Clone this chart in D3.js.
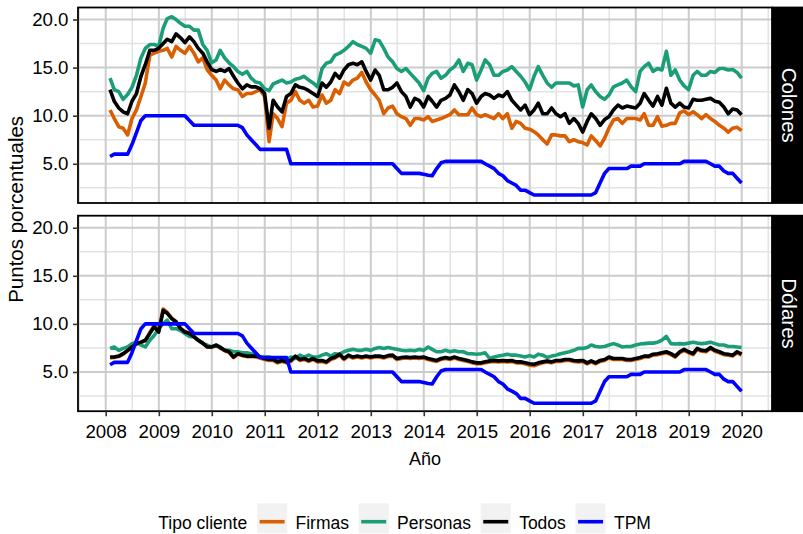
<!DOCTYPE html>
<html>
<head>
<meta charset="utf-8">
<script src="https://cdn.jsdelivr.net/npm/d3@7"></script>
<style>
  body { margin: 0; background: #fff; }
  svg text { font-family: "Liberation Sans", Arial, sans-serif; }
</style>
</head>
<body>
<svg id="chart"></svg>
<script>
// monthly rates, Jan 2008 - Dec 2019 (one row per year)
var colFirmas = [
  10.6, 9.7, 8.85, 8.7, 8.0, 9.7, 10.6, 12.0, 13.4, 16.3, 16.5, 16.7,
  16.8, 17.0, 16.1, 17.2, 16.8, 16.5, 17.2, 16.5, 15.6, 16.0, 14.8, 14.2,
  13.7, 12.8, 13.7, 13.2, 12.8, 12.7, 12.0, 12.3, 12.3, 12.5, 12.7, 12.0,
  7.3, 10.2, 9.7, 8.85, 11.3, 11.6, 12.5, 11.6, 11.3, 11.6, 10.9, 11.0,
  12.15, 11.3, 11.6, 12.7, 12.3, 13.5, 13.2, 13.7, 13.9, 14.5, 13.5, 12.7,
  12.15, 11.6, 10.2, 10.8, 11.0, 10.2, 9.9, 9.7, 9.0, 9.7, 9.7, 9.55,
  9.9, 9.4, 9.55, 9.7, 9.9, 10.1, 10.6, 10.1, 10.1, 10.1, 10.8, 10.1,
  9.9, 10.1, 9.9, 9.7, 10.2, 9.7, 10.2, 8.7, 9.4, 9.2, 8.7, 8.6,
  8.35, 8.0, 7.5, 7.05, 8.0, 8.0, 7.9, 7.9, 7.3, 7.5, 7.3, 7.2,
  6.95, 7.9, 7.4, 6.85, 7.65, 8.7, 9.55, 9.7, 9.2, 9.7, 9.7, 9.7,
  9.55, 10.2, 9.0, 9.0, 9.9, 8.9, 9.0, 9.2, 9.2, 10.3, 10.5, 10.1,
  10.4, 10.1, 9.7, 10.1, 9.7, 9.4, 9.0, 8.7, 8.3, 8.7, 8.8, 8.45
];
var colPersonas = [
  13.9, 12.7, 12.5, 11.7, 12.2, 12.95, 14.2, 16.0, 17.0, 17.4, 17.4, 17.2,
  19.1, 20.1, 20.3, 20.0, 19.6, 19.3, 19.3, 18.9, 18.9, 17.4, 16.8, 15.5,
  15.8, 16.8, 16.0, 15.5, 15.1, 14.6, 14.3, 14.6, 13.9, 13.5, 13.4, 12.8,
  12.6, 13.3, 13.5, 13.7, 13.4, 13.5, 13.8, 13.9, 14.1, 13.7, 13.4, 13.0,
  14.9, 15.45, 15.6, 16.3, 16.5, 16.8, 17.2, 17.7, 17.4, 17.2, 17.0, 16.5,
  17.9, 17.8, 17.0, 16.1, 15.6, 14.9, 14.6, 14.9, 14.4, 13.9, 13.4, 12.6,
  13.9, 14.4, 14.6, 13.9, 14.2, 14.75, 15.1, 15.8, 14.6, 15.45, 15.3, 13.7,
  14.75, 15.8, 15.3, 14.2, 14.2, 14.6, 14.75, 15.1, 14.6, 14.1, 13.5, 12.7,
  14.1, 15.1, 14.2, 13.4, 12.95, 13.4, 13.4, 13.4, 13.4, 13.1, 13.2, 10.9,
  12.7, 13.2, 12.5, 12.0, 11.7, 12.15, 13.0, 13.2, 13.4, 13.7, 13.0, 12.5,
  14.6, 15.1, 15.45, 14.6, 14.9, 14.75, 16.7, 14.2, 14.75, 13.7, 13.1, 12.7,
  14.2, 14.6, 14.2, 14.2, 14.6, 14.5, 14.9, 14.9, 14.75, 14.8, 14.5, 13.9
];
var colTodos = [
  12.7, 11.5, 10.8, 10.4, 10.2, 11.5, 12.3, 14.1, 15.3, 16.8, 16.8, 17.0,
  17.5, 17.95, 17.7, 18.5, 18.1, 17.6, 18.2, 17.7, 17.0, 16.5, 15.6, 14.8,
  14.6, 14.8, 14.6, 14.9, 14.1, 13.4, 12.8, 13.2, 13.0, 13.0, 12.8, 12.3,
  8.7, 11.6, 10.9, 10.4, 12.0, 12.3, 13.2, 12.95, 12.85, 12.6, 12.3, 12.0,
  13.4, 12.95, 13.5, 14.4, 13.9, 14.75, 15.3, 15.45, 15.3, 15.6, 14.6, 13.7,
  14.75, 14.2, 12.7, 12.7, 12.95, 13.4, 12.5, 12.0, 10.9, 11.8, 11.6, 10.9,
  12.0, 11.5, 10.9, 11.6, 11.8, 12.15, 13.2, 12.5, 11.6, 12.7, 12.3, 11.3,
  12.0, 12.3, 12.15, 11.8, 12.15, 12.0, 12.5, 11.6, 11.1, 10.6, 11.1, 10.1,
  10.6, 11.3, 10.2, 10.2, 10.8, 10.2, 9.9, 10.2, 9.2, 9.7, 9.2, 8.3,
  9.4, 10.2, 9.7, 9.0, 9.6, 9.9, 10.6, 11.1, 10.8, 11.0, 10.9, 10.8,
  11.3, 12.3, 11.6, 11.0, 12.0, 11.1, 12.85, 11.3, 10.9, 11.3, 10.9, 10.8,
  11.7, 11.6, 11.6, 11.7, 11.8, 11.5, 11.4, 10.9, 10.2, 10.7, 10.6, 10.1
];
var dolFirmas = [
  6.45, 6.5, 6.6, 6.85, 7.2, 7.55, 7.9, 8.05, 8.25, 9.1, 9.85, 9.3,
  11.55, 11.2, 10.6, 10.25, 9.55, 9.2, 9.05, 8.7, 8.3, 8.0, 7.6, 7.55,
  7.75, 7.5, 7.2, 7.05, 6.5, 6.85, 6.7, 6.6, 6.6, 6.55, 6.45, 6.3,
  6.2, 6.2, 5.95, 6.1, 5.95, 6.1, 6.55, 6.2, 6.3, 6.1, 6.3, 6.05,
  6.1, 5.95, 6.3, 6.45, 6.75, 6.3, 6.65, 6.45, 6.55, 6.45, 6.55, 6.45,
  6.55, 6.55, 6.45, 6.6, 6.65, 6.3, 6.4, 6.45, 6.4, 6.45, 6.4, 6.45,
  6.3, 6.2, 6.1, 6.3, 6.4, 6.3, 6.45, 6.3, 6.2, 6.1, 5.95, 5.85,
  5.85, 5.95, 6.05, 6.1, 6.05, 6.1, 6.05, 6.1, 5.95, 5.95, 5.85, 5.7,
  5.65, 5.8, 5.95, 6.05, 5.95, 6.1, 6.1, 6.2, 6.2, 6.1, 6.05, 6.1,
  5.85, 6.05, 5.85, 6.1, 6.2, 6.45, 6.3, 6.3, 6.3, 6.2, 6.2, 6.3,
  6.4, 6.55, 6.55, 6.75, 6.8, 6.9, 7.0, 6.8, 6.55, 7.0, 7.25, 7.0,
  6.8, 7.35, 7.15, 7.1, 7.45, 7.15, 7.0, 6.8, 6.75, 6.65, 7.0, 6.75
];
var dolPersonas = [
  7.45, 7.6, 7.25, 7.45, 7.6, 7.95, 8.1, 7.8, 7.6, 8.3, 8.8, 9.5,
  10.0, 10.4, 9.5, 9.5, 9.3, 9.0, 8.7, 8.65, 8.3, 7.95, 7.8, 7.6,
  7.8, 7.6, 7.25, 7.25, 7.1, 7.1, 7.0, 7.0, 6.9, 6.85, 6.55, 6.55,
  6.55, 6.4, 6.2, 6.2, 6.3, 6.55, 6.4, 6.75, 6.55, 6.75, 6.55, 6.55,
  6.75, 6.9, 6.65, 6.9, 6.85, 7.1, 7.25, 7.35, 7.25, 7.25, 7.35, 7.25,
  7.45, 7.55, 7.45, 7.55, 7.45, 7.35, 7.25, 7.2, 7.25, 7.2, 7.35, 7.25,
  7.6, 7.35, 7.1, 7.1, 7.25, 7.1, 7.2, 7.1, 7.1, 6.9, 6.9, 6.85,
  6.9, 7.0, 6.4, 6.55, 6.65, 6.75, 6.85, 6.75, 6.75, 6.65, 6.55, 6.7,
  6.55, 6.85, 6.75, 6.5, 6.65, 6.75, 6.9, 7.0, 7.1, 7.25, 7.45, 7.45,
  7.55, 7.8, 7.65, 7.6, 7.65, 7.8, 7.95, 7.8, 7.6, 7.65, 7.65, 7.8,
  7.9, 7.95, 8.0, 8.0, 8.1, 8.3, 8.7, 7.95, 7.9, 7.95, 7.9, 8.0,
  8.1, 8.0, 7.95, 8.0, 8.1, 7.95, 7.8, 7.8, 7.65, 7.65, 7.6, 7.55
];
var dolTodos = [
  6.55, 6.55, 6.65, 6.9, 7.25, 7.6, 7.95, 8.1, 8.3, 9.0, 9.7, 9.15,
  11.4, 11.1, 10.55, 10.2, 9.5, 9.15, 9.0, 8.65, 8.3, 8.0, 7.6, 7.6,
  7.8, 7.55, 7.25, 7.1, 6.55, 6.9, 6.75, 6.65, 6.65, 6.65, 6.55, 6.4,
  6.3, 6.3, 6.05, 6.2, 6.05, 6.2, 6.65, 6.3, 6.4, 6.2, 6.4, 6.15,
  6.2, 6.05, 6.4, 6.55, 6.85, 6.4, 6.75, 6.55, 6.65, 6.55, 6.65, 6.55,
  6.65, 6.65, 6.55, 6.7, 6.75, 6.4, 6.5, 6.55, 6.5, 6.55, 6.5, 6.55,
  6.4, 6.3, 6.2, 6.4, 6.5, 6.4, 6.55, 6.4, 6.3, 6.2, 6.05, 5.95,
  5.95, 6.05, 6.15, 6.2, 6.15, 6.2, 6.15, 6.2, 6.05, 6.05, 5.95, 5.85,
  5.8, 5.95, 6.05, 6.15, 6.05, 6.2, 6.2, 6.3, 6.3, 6.2, 6.15, 6.2,
  5.95, 6.15, 5.95, 6.2, 6.3, 6.55, 6.4, 6.4, 6.4, 6.3, 6.3, 6.4,
  6.5, 6.65, 6.65, 6.85, 6.9, 7.0, 7.1, 6.9, 6.65, 7.1, 7.35, 7.1,
  6.9, 7.45, 7.25, 7.2, 7.55, 7.25, 7.1, 6.9, 6.85, 6.75, 7.1, 6.85
];
var tpm = [
  5.75, 6.0, 6.0, 6.0, 6.0, 7.0, 8.25, 9.5, 10.0, 10.0, 10.0, 10.0,
  10.0, 10.0, 10.0, 10.0, 10.0, 10.0, 9.5, 9.0, 9.0, 9.0, 9.0, 9.0,
  9.0, 9.0, 9.0, 9.0, 9.0, 9.0, 8.75, 8.0, 7.5, 7.0, 6.5, 6.5,
  6.5, 6.5, 6.5, 6.5, 6.5, 5.0, 5.0, 5.0, 5.0, 5.0, 5.0, 5.0,
  5.0, 5.0, 5.0, 5.0, 5.0, 5.0, 5.0, 5.0, 5.0, 5.0, 5.0, 5.0,
  5.0, 5.0, 5.0, 5.0, 5.0, 4.5, 4.0, 4.0, 4.0, 4.0, 4.0, 3.9,
  3.8, 3.75, 4.5, 5.1, 5.25, 5.25, 5.25, 5.25, 5.25, 5.25, 5.25, 5.25,
  5.25, 5.0, 4.75, 4.5, 4.0, 3.75, 3.25, 3.0, 2.75, 2.25, 2.25, 2.0,
  1.75, 1.75, 1.75, 1.75, 1.75, 1.75, 1.75, 1.75, 1.75, 1.75, 1.75, 1.75,
  1.75, 1.75, 2.0, 3.0, 4.0, 4.5, 4.5, 4.5, 4.5, 4.5, 4.75, 4.75,
  4.75, 5.0, 5.0, 5.0, 5.0, 5.0, 5.0, 5.0, 5.0, 5.0, 5.25, 5.25,
  5.25, 5.25, 5.25, 5.25, 5.0, 4.75, 4.75, 4.25, 4.0, 4.0, 3.5, 3.0
];

var seriesNames = ["Firmas", "Personas", "Todos", "TPM"];
var seriesColors = ["#D95F02", "#1B9E77", "#000000", "#0000FF"];
var panelNames = ["Colones", "Dólares"];
var yTicks = [5, 10, 15, 20];
var yMinor = [2.5, 7.5, 12.5, 17.5];
var tickYears = d3.range(2008, 2021);

// end-of-month dates for each observation
var months = d3.range(144).map(i => new Date(2008, i + 1, 0));

var W = 803, H = 534;
var left = 78, right = 772, stripW = 31;

var svg = d3.select("#chart")
            .attr("width", W)
            .attr("height", H);

var x = d3.scaleTime()
          .domain([new Date(2008, 0, 1), new Date(2020, 0, 1)])
          .range([105.7, 741.7]);

var minorDates = d3.range(2007, 2021).map(y => new Date((+new Date(y, 0, 1) + +new Date(y + 1, 0, 1)) / 2))
                   .filter(d => x(d) > left && x(d) < right);

var panels = [
  { name: panelNames[0], top: 7.5, bottom: 203, series: [colFirmas, colPersonas, colTodos, tpm] },
  { name: panelNames[1], top: 215.7, bottom: 411.2, series: [dolFirmas, dolPersonas, dolTodos, tpm] }
];

panels.forEach(function(p) {
  var y = d3.scaleLinear().domain([0.92, 21.25]).range([p.bottom, p.top]);
  var g = svg.append("g");

  g.append("rect")
   .attr("x", left).attr("y", p.top)
   .attr("width", right - left).attr("height", p.bottom - p.top)
   .attr("fill", "#fff");

  // minor grid
  g.selectAll(".hmin").data(yMinor).enter().append("line")
   .attr("x1", left).attr("x2", right)
   .attr("y1", d => y(d)).attr("y2", d => y(d))
   .attr("stroke", "#e3e3e3").attr("stroke-width", 1.5);
  g.selectAll(".vmin").data(minorDates).enter().append("line")
   .attr("x1", d => x(d)).attr("x2", d => x(d))
   .attr("y1", p.top).attr("y2", p.bottom)
   .attr("stroke", "#e3e3e3").attr("stroke-width", 1.5);

  // major grid
  g.selectAll(".hmaj").data(yTicks).enter().append("line")
   .attr("x1", left).attr("x2", right)
   .attr("y1", d => y(d)).attr("y2", d => y(d))
   .attr("stroke", "#cccccc").attr("stroke-width", 2);
  g.selectAll(".vmaj").data(tickYears).enter().append("line")
   .attr("x1", d => x(new Date(d, 0, 1))).attr("x2", d => x(new Date(d, 0, 1)))
   .attr("y1", p.top).attr("y2", p.bottom)
   .attr("stroke", "#cccccc").attr("stroke-width", 2);

  var line = d3.line()
               .x((d, i) => x(months[i]))
               .y(d => y(d));

  g.selectAll(".serie").data(p.series).enter().append("path")
   .attr("d", d => line(d))
   .attr("fill", "none")
   .attr("stroke", (d, i) => seriesColors[i])
   .attr("stroke-width", 3.6)
   .attr("stroke-linejoin", "round")
   .attr("stroke-linecap", "butt");

  g.append("rect")
   .attr("x", left).attr("y", p.top)
   .attr("width", right - left).attr("height", p.bottom - p.top)
   .attr("fill", "none").attr("stroke", "#000").attr("stroke-width", 1.8);

  // strip on the right
  g.append("rect")
   .attr("x", right).attr("y", p.top - 0.9)
   .attr("width", stripW + 2).attr("height", p.bottom - p.top + 1.8)
   .attr("fill", "#000");
  g.append("text")
   .attr("transform", "translate(" + (right + stripW / 2 + 2) + "," + ((p.top + p.bottom) / 2) + ") rotate(90)")
   .attr("text-anchor", "middle")
   .attr("dy", "0.35em")
   .attr("fill", "#fff")
   .style("font-size", "20.5px")
   .text(p.name);

  var yAxis = d3.axisLeft(y)
                .tickValues(yTicks)
                .tickFormat(d3.format(".1f"))
                .tickSize(5)
                .tickPadding(4.5);
  var ga = svg.append("g")
              .attr("transform", "translate(" + left + ",0)")
              .call(yAxis);
  ga.select(".domain").remove();
  ga.selectAll("line").attr("stroke", "#333").attr("stroke-width", 1.6);
  ga.selectAll("text").attr("fill", "#000").style("font-size", "18.7px").style("font-family", "Liberation Sans, Arial, sans-serif");
});

var xAxis = d3.axisBottom(x)
              .tickValues(tickYears.map(yr => new Date(yr, 0, 1)))
              .tickFormat(d3.timeFormat("%Y"))
              .tickSize(5)
              .tickPadding(8.2);
var gx = svg.append("g")
            .attr("transform", "translate(0," + panels[1].bottom + ")")
            .call(xAxis);
gx.select(".domain").remove();
gx.selectAll("line").attr("stroke", "#333").attr("stroke-width", 1.6);
gx.selectAll("text").attr("fill", "#000").style("font-size", "18.7px").style("font-family", "Liberation Sans, Arial, sans-serif");

// axis titles
svg.append("text")
   .attr("x", (left + right) / 2).attr("y", 464.5)
   .attr("text-anchor", "middle")
   .style("font-size", "18px")
   .text("Año");

svg.append("text")
   .attr("transform", "translate(23," + ((panels[0].top + panels[1].bottom) / 2) + ") rotate(-90)")
   .attr("text-anchor", "middle")
   .style("font-size", "20.5px")
   .text("Puntos porcentuales");

// legend
var lg = svg.append("g");
var legY = 518.3;
var cx = 158.3;
var title = lg.append("text")
              .attr("x", cx).attr("y", legY + 11)
              .style("font-size", "17.5px")
              .text("Tipo cliente");
cx += title.node().getComputedTextLength() + 10;

seriesNames.forEach(function(name, i) {
  lg.append("rect")
    .attr("x", cx).attr("y", legY - 15)
    .attr("width", 30).attr("height", 30)
    .attr("fill", "#f2f2f2");
  lg.append("line")
    .attr("x1", cx + 2.5).attr("x2", cx + 27.5)
    .attr("y1", legY + 3.4).attr("y2", legY + 3.4)
    .attr("stroke", seriesColors[i])
    .attr("stroke-width", 3.6);
  cx += 30 + 8.4;
  var t = lg.append("text")
            .attr("x", cx).attr("y", legY + 11)
            .style("font-size", "17.5px")
            .text(name);
  cx += t.node().getComputedTextLength() + 9.7;
});
</script>
</body>
</html>
